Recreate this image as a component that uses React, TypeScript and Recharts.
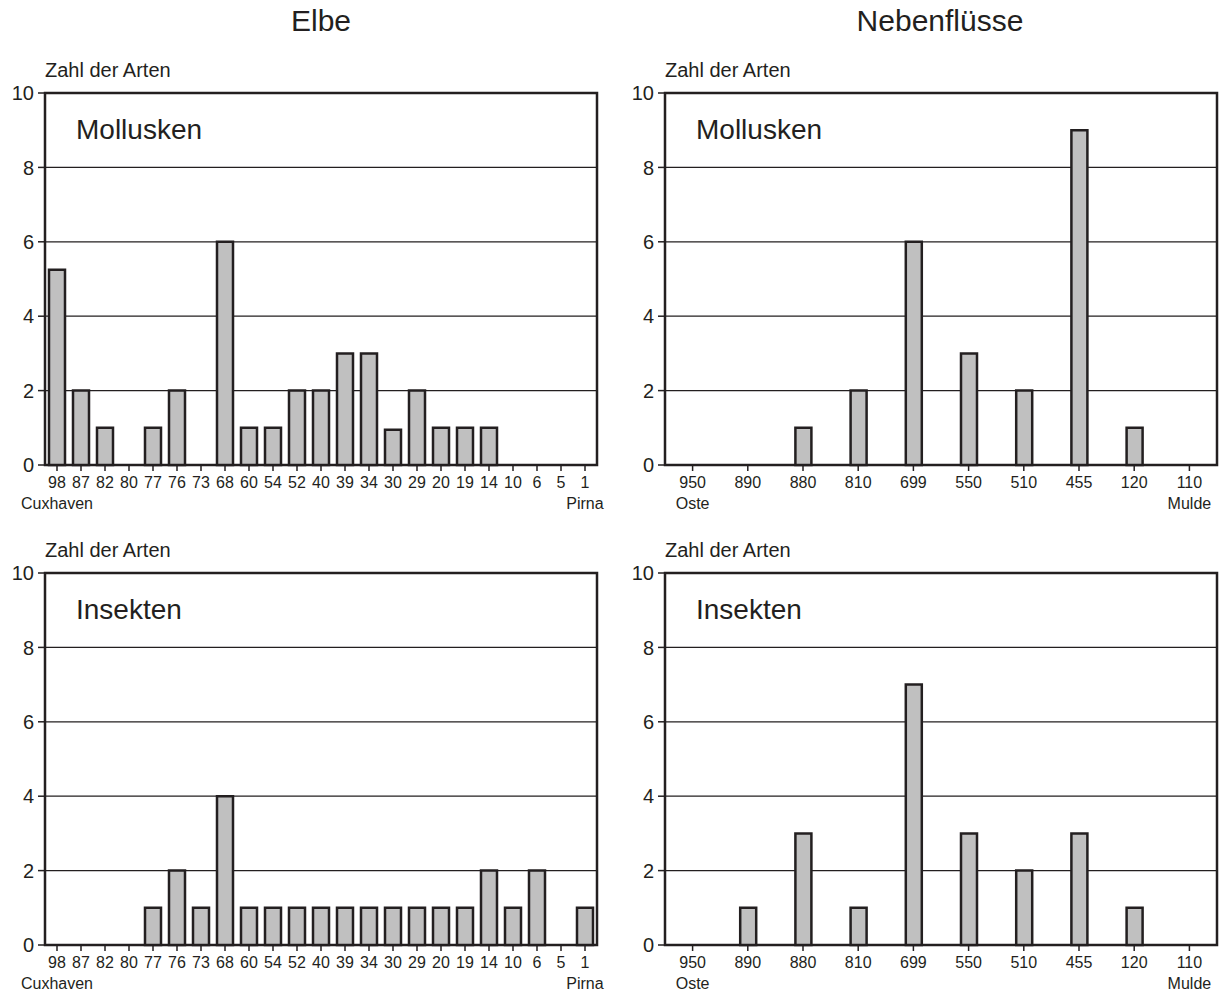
import { BarChart, Bar, XAxis, YAxis, CartesianGrid, usePlotArea } from 'recharts'

const elbeKm = ['98', '87', '82', '80', '77', '76', '73', '68', '60', '54', '52', '40', '39', '34', '30', '29', '20', '19', '14', '10', '6', '5', '1']
const elbeMollusken = [5.25, 2, 1, 0, 1, 2, 0, 6, 1, 1, 2, 2, 3, 3, 0.95, 2, 1, 1, 1, 0, 0, 0, 0]
const elbeInsekten = [0, 0, 0, 0, 1, 2, 1, 4, 1, 1, 1, 1, 1, 1, 1, 1, 1, 1, 2, 1, 2, 0, 1]
const elbePlaces = ['Cuxhaven', 'Pirna']

const nebenKm = ['950', '890', '880', '810', '699', '550', '510', '455', '120', '110']
const nebenMollusken = [0, 0, 1, 2, 6, 3, 2, 9, 1, 0]
const nebenInsekten = [0, 1, 3, 1, 7, 3, 2, 3, 1, 0]
const nebenPlaces = ['Oste', 'Mulde']

const yTicks = [0, 2, 4, 6, 8, 10]
const FONT = '"Liberation Sans", Arial, Helvetica, sans-serif'
const INK = '#231f20'

function Frame({ group }: { group: string }) {
  const p = usePlotArea()
  if (!p) return null
  return (
    <g>
      <text x={p.x} y={p.y - 23} dy="0.35em" fontSize={20} fill={INK} fontFamily={FONT}>
        Zahl der Arten
      </text>
      <text x={p.x + 31} y={p.y + 36} dy="0.35em" fontSize={28} fill={INK} fontFamily={FONT}>
        {group}
      </text>
      <rect x={p.x} y={p.y} width={p.width} height={p.height} fill="none" stroke={INK} strokeWidth={2.5} />
    </g>
  )
}

function makeTick(count: number, places: string[]) {
  // eslint-disable-next-line @typescript-eslint/no-explicit-any
  return function XTick(props: any) {
    const { x, y, payload, index } = props
    const place = index === 0 ? places[0] : index === count - 1 ? places[1] : null
    return (
      <g>
        <text x={x} y={y} dy="0.71em" textAnchor="middle" fontSize={16} fill={INK} fontFamily={FONT}>
          {payload.value}
        </text>
        {place && (
          <text x={x} y={y + 21} dy="0.71em" textAnchor="middle" fontSize={16} fill={INK} fontFamily={FONT}>
            {place}
          </text>
        )}
      </g>
    )
  }
}

interface PanelProps {
  cats: string[]
  values: number[]
  places: string[]
  group: string
  left: number
  top: number
}

function Panel({ cats, values, places, group, left, top }: PanelProps) {
  const data = cats.map((c, i) => ({ km: c, n: values[i] }))
  return (
    <div style={{ position: 'absolute', left, top }}>
      <BarChart width={610} height={465} data={data} margin={{ top: 33, right: 13, bottom: 0, left: 0 }} barCategoryGap={0}>
        <CartesianGrid vertical={false} stroke={INK} strokeWidth={1.3} />
        <XAxis
          dataKey="km"
          height={60}
          interval={0}
          axisLine={false}
          tickSize={6}
          tickMargin={6}
          tickLine={{ stroke: INK, strokeWidth: 1.5 }}
          tick={makeTick(cats.length, places)}
        />
        <YAxis
          domain={[0, 10]}
          ticks={yTicks}
          width={45}
          axisLine={false}
          tickSize={7}
          tickMargin={4}
          tickLine={{ stroke: INK, strokeWidth: 1.5 }}
          tick={{ fontSize: 20, fill: INK, fontFamily: FONT }}
        />
        <Bar dataKey="n" barSize={16} fill="#c0c0c0" stroke={INK} strokeWidth={2.5} isAnimationActive={false} />
        <Frame group={group} />
      </BarChart>
    </div>
  )
}

export default function App() {
  return (
    <div style={{ position: 'absolute', left: 0, top: 0, width: 1228, height: 998, background: '#fff', fontFamily: FONT }}>
      <div style={{ position: 'absolute', left: 221, top: 4, width: 200, textAlign: 'center', fontSize: 30, color: INK }}>Elbe</div>
      <div style={{ position: 'absolute', left: 790, top: 4, width: 300, textAlign: 'center', fontSize: 30, color: INK }}>Nebenflüsse</div>
      <Panel cats={elbeKm} values={elbeMollusken} places={elbePlaces} group="Mollusken" left={0} top={60} />
      <Panel cats={nebenKm} values={nebenMollusken} places={nebenPlaces} group="Mollusken" left={620} top={60} />
      <Panel cats={elbeKm} values={elbeInsekten} places={elbePlaces} group="Insekten" left={0} top={540} />
      <Panel cats={nebenKm} values={nebenInsekten} places={nebenPlaces} group="Insekten" left={620} top={540} />
    </div>
  )
}
